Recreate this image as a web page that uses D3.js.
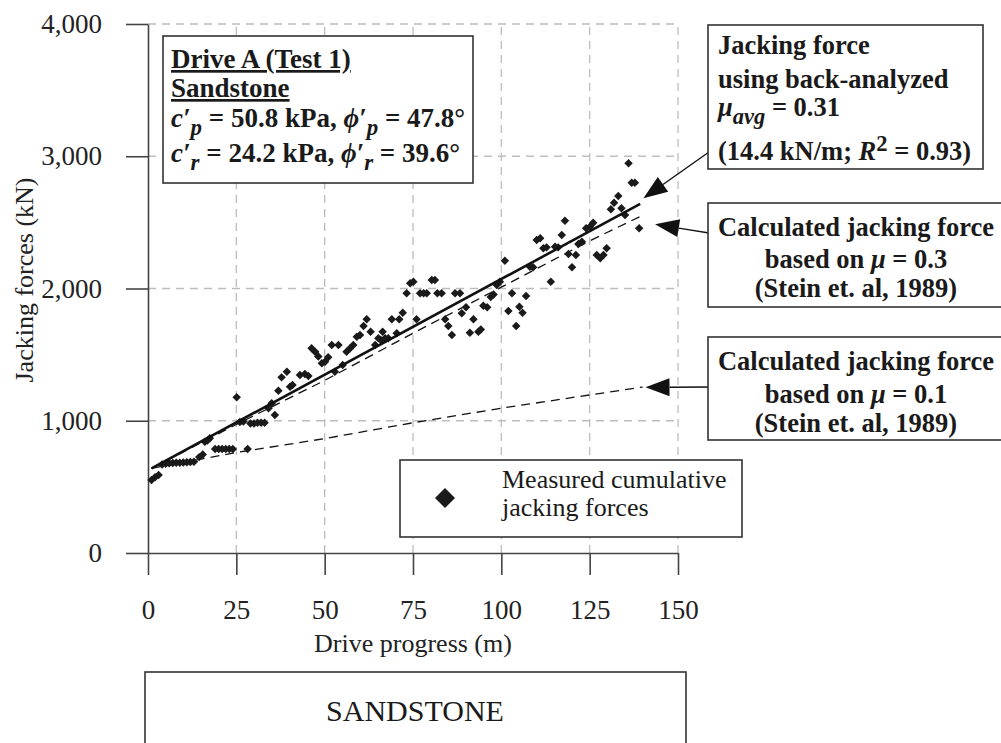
<!DOCTYPE html>
<html>
<head>
<meta charset="utf-8">
<script src="https://cdn.jsdelivr.net/npm/d3@7"></script>
<style>
  body { margin: 0; background: #fff; }
  svg { display: block; font-family: "Liberation Serif", "Times New Roman", serif; }
</style>
</head>
<body>
<svg id="chart" width="1001" height="743"></svg>
<script>
// measured cumulative jacking forces: drive progress (m) and force (kN)
const progress = [1, 2, 3, 4, 5, 6, 7, 8, 9, 10, 11, 12, 13, 14.5, 15.5, 16.1, 16.8, 17.5,
  19, 20, 21, 22, 23, 24, 25.1, 26, 27, 28.2, 29, 30, 31, 32, 33, 34.1, 35, 35.9, 36.9, 37.8,
  39.3, 40.2, 40.9, 43, 44.4, 45.4, 46.3, 47.3, 48.2, 49.2, 50.1, 51, 52, 52.9, 53.9, 55.1,
  56.2, 57.2, 58.1, 59.1, 60, 61, 61.9, 63, 64.3, 65.2, 65.9, 66.4, 67.1, 68, 69, 70.4, 71.1,
  72.1, 73.2, 74.2, 75.1, 76, 77, 78, 78.9, 80.3, 81.2, 81.9, 83.1, 84.1, 85, 86, 86.9, 88.3,
  88.8, 90, 91.1, 92.1, 93.5, 94.2, 94.9, 96, 97, 97.8, 98.7, 99.6, 101, 102, 103, 104.2,
  105.1, 106, 107, 108.1, 109, 110, 111, 111.9, 112.8, 114, 115.2, 116.1, 117.1, 118, 119,
  120, 121.1, 121.8, 122.8, 124, 125.1, 126, 127, 128, 128.9, 129.8, 131, 131.9, 133.1, 134,
  135, 136, 136.9, 137.8, 139];
const force = [552, 572, 590, 670, 675, 678, 680, 682, 683, 685, 686, 688, 690, 725, 745, 842, 850, 867,
  786, 786, 786, 786, 786, 786, 1177, 990, 995, 786, 980, 980, 985, 985, 985, 1094, 1132, 1043, 1227, 1328,
  1371, 1257, 1270, 1346, 1353, 1338, 1548, 1522, 1485, 1434, 1446, 1480, 1573, 1371, 1573, 1422,
  1522, 1548, 1573, 1636, 1648, 1716, 1767, 1673, 1573, 1623, 1610, 1673, 1623, 1623, 1767, 1661, 1767,
  1817, 1964, 2039, 2051, 1767, 1964, 1964, 1964, 2064, 2064, 1964, 1964, 1767, 1716, 1648, 1964, 1964,
  1813, 1858, 1666, 1767, 1673, 1690, 1870, 1858, 1935, 1955, 2026, 2051, 2210, 1830, 1964, 1716,
  1862, 1817, 1943, 2165, 2160, 2367, 2380, 2304, 2311, 2051, 2316, 2311, 2405, 2513, 2261,
  2160, 2253, 2336, 2354, 2455, 2467, 2498, 2253, 2228, 2253, 2304, 2599, 2649, 2699, 2606,
  2556, 2947, 2800, 2800, 2455];

// back-analyzed fit (mu_avg = 0.31) and Stein et al. (1989) predictions
const fitLine = [[1, 640], [139.3, 2640]];
const mu03Line = [[1, 640], [25, 972], [50, 1305], [75, 1662], [100, 2010], [125, 2360], [139.7, 2550]];
const mu01Line = [[1, 640], [25, 760], [50, 865], [75, 985], [100, 1095], [140, 1255]];

const xTicks = [0, 25, 50, 75, 100, 125, 150];
const yTicks = [0, 1000, 2000, 3000, 4000];

// arrow tips, in data units
const arrowTips = [[140.2, 2682], [143.5, 2485], [140.8, 1253]];

const svg = d3.select("#chart");

const x = d3.scaleLinear().domain([0, 150]).range([148, 678]);
const y = d3.scaleLinear().domain([0, 4000]).range([553, 24]);

// grid
const grid = svg.append("g")
    .attr("stroke", "#bdbdbd")
    .attr("stroke-width", 1.3)
    .attr("stroke-dasharray", "8,6");
grid.selectAll(".gx").data(xTicks.slice(1)).enter().append("line")
    .attr("x1", d => x(d)).attr("x2", d => x(d))
    .attr("y1", y(0)).attr("y2", y(4000));
grid.selectAll(".gy").data(yTicks.slice(1)).enter().append("line")
    .attr("x1", x(0)).attr("x2", x(150))
    .attr("y1", d => y(d)).attr("y2", d => y(d));

// axes
const xAxis = svg.append("g")
    .attr("transform", `translate(0,${y(0)})`)
    .call(d3.axisBottom(x).tickValues(xTicks).tickSize(22).tickSizeOuter(0).tickPadding(25));
const yAxis = svg.append("g")
    .attr("transform", `translate(${x(0)},0)`)
    .call(d3.axisLeft(y).tickValues(yTicks).tickSize(22).tickSizeOuter(0).tickPadding(24).tickFormat(d3.format(",")));

[xAxis, yAxis].forEach(a => {
    a.selectAll("path, line").attr("stroke", "#444").attr("stroke-width", 1.6);
    a.selectAll("text")
        .attr("fill", "#222")
        .style("font-family", "'Liberation Serif', serif")
        .style("font-size", "27px");
});

svg.append("text")
    .attr("x", 413).attr("y", 652)
    .attr("text-anchor", "middle")
    .attr("fill", "#222")
    .style("font-size", "26px")
    .text("Drive progress (m)");

svg.append("text")
    .attr("transform", "translate(33,280) rotate(-90)")
    .attr("text-anchor", "middle")
    .attr("fill", "#222")
    .style("font-size", "26px")
    .text("Jacking forces (kN)");

// lines
const line = d3.line().x(d => x(d[0])).y(d => y(d[1]));

svg.append("path").datum(mu01Line)
    .attr("d", line).attr("fill", "none")
    .attr("stroke", "#111").attr("stroke-width", 1.3).attr("stroke-dasharray", "9,6");
svg.append("path").datum(mu03Line)
    .attr("d", line).attr("fill", "none")
    .attr("stroke", "#111").attr("stroke-width", 1.3).attr("stroke-dasharray", "9,6");

// measured points
const diamond = d3.symbol().type(d3.symbolSquare).size(36);
svg.append("g").selectAll("path")
    .data(progress.map((p, i) => [p, force[i]]))
    .enter().append("path")
    .attr("d", diamond)
    .attr("transform", d => `translate(${x(d[0])},${y(d[1])}) rotate(45)`)
    .attr("fill", "#1a1a1a");

svg.append("path").datum(fitLine)
    .attr("d", line).attr("fill", "none")
    .attr("stroke", "#111").attr("stroke-width", 2.6);

// rich text helper: parts are [text, flags] where flags may hold i, sub, sup
function addRich(parent, tx, ty, parts, anchor) {
    const t = parent.append("text")
        .attr("x", tx).attr("y", ty)
        .attr("text-anchor", anchor || "start");
    let shift = 0;
    parts.forEach(([str, fmt = ""]) => {
        const target = fmt.includes("sub") ? 8 : fmt.includes("sup") ? -9 : 0;
        const ts = t.append("tspan").attr("dy", target - shift).text(str);
        shift = target;
        if (fmt.startsWith("i")) ts.attr("font-style", "italic");
        if (target !== 0) ts.attr("font-size", "0.85em");
    });
    return t;
}

function box(bx, by, bw, bh) {
    const g = svg.append("g");
    g.append("rect")
        .attr("x", bx).attr("y", by).attr("width", bw).attr("height", bh)
        .attr("fill", "#fff").attr("stroke", "#333").attr("stroke-width", 1.6);
    return g;
}

// soil parameters box
const soil = box(163, 36, 310, 147)
    .attr("font-weight", "bold").attr("fill", "#1a1a1a").style("font-size", "27px");
soil.append("text").attr("x", 171).attr("y", 68).attr("text-decoration", "underline").text("Drive A (Test 1)");
soil.append("text").attr("x", 171).attr("y", 97).attr("text-decoration", "underline").text("Sandstone");
addRich(soil, 171, 127, [["c′", "i"], ["p", "isub"], [" = 50.8 kPa, "], ["ϕ′", "i"], ["p", "isub"], [" = 47.8°"]]);
addRich(soil, 171, 162, [["c′", "i"], ["r", "isub"], [" = 24.2 kPa, "], ["ϕ′", "i"], ["r", "isub"], [" = 39.6°"]]);

// arrows from the annotation boxes
const tails = [[709, 152], [709, 233], [709, 387]];
arrowTips.forEach((tip, i) => {
    const tx = x(tip[0]), ty = y(tip[1]);
    const [sx, sy] = tails[i];
    const ang = Math.atan2(sy - ty, sx - tx);
    const len = 24, half = 9;
    const bx = tx + len * Math.cos(ang), by = ty + len * Math.sin(ang);
    svg.append("line")
        .attr("x1", sx).attr("y1", sy).attr("x2", bx).attr("y2", by)
        .attr("stroke", "#111").attr("stroke-width", 1.4);
    const pts = [
        [tx, ty],
        [bx - half * Math.sin(ang), by + half * Math.cos(ang)],
        [bx + half * Math.sin(ang), by - half * Math.cos(ang)]
    ];
    svg.append("path").attr("d", "M" + pts.join("L") + "Z").attr("fill", "#111");
});

// annotation boxes
const a1 = box(708, 25, 275, 144)
    .attr("font-weight", "bold").attr("fill", "#1a1a1a").style("font-size", "26.5px");
a1.append("text").attr("x", 718).attr("y", 54).text("Jacking force");
a1.append("text").attr("x", 718).attr("y", 88).text("using back-analyzed");
addRich(a1, 718, 116, [["μ", "i"], ["avg", "isub"], [" = 0.31"]]);
addRich(a1, 718, 160, [["(14.4 kN/m; "], ["R", "i"], ["2", "sup"], [" = 0.93)"]]);

const a2 = box(708, 203, 310, 104)
    .attr("font-weight", "bold").attr("fill", "#1a1a1a").style("font-size", "26.5px");
a2.append("text").attr("x", 856).attr("y", 236).attr("text-anchor", "middle").text("Calculated jacking force");
addRich(a2, 856, 268, [["based on "], ["μ", "i"], [" = 0.3"]], "middle");
a2.append("text").attr("x", 856).attr("y", 297).attr("text-anchor", "middle").text("(Stein et. al, 1989)");

const a3 = box(708, 337, 310, 103)
    .attr("font-weight", "bold").attr("fill", "#1a1a1a").style("font-size", "26.5px");
a3.append("text").attr("x", 856).attr("y", 370).attr("text-anchor", "middle").text("Calculated jacking force");
addRich(a3, 856, 403, [["based on "], ["μ", "i"], [" = 0.1"]], "middle");
a3.append("text").attr("x", 856).attr("y", 432).attr("text-anchor", "middle").text("(Stein et. al, 1989)");

// legend
const legend = box(400, 460, 342, 77).attr("fill", "#1a1a1a").style("font-size", "26px");
legend.append("path")
    .attr("d", d3.symbol().type(d3.symbolSquare).size(200))
    .attr("transform", "translate(445,498) rotate(45)");
legend.append("text").attr("x", 502).attr("y", 488).text("Measured cumulative");
legend.append("text").attr("x", 502).attr("y", 516).text("jacking forces");

// rock type strip
const strip = box(145, 672, 541, 90).attr("fill", "#1a1a1a").style("font-size", "30px");
strip.append("text").attr("x", 415).attr("y", 721).attr("text-anchor", "middle").text("SANDSTONE");
</script>
</body>
</html>
